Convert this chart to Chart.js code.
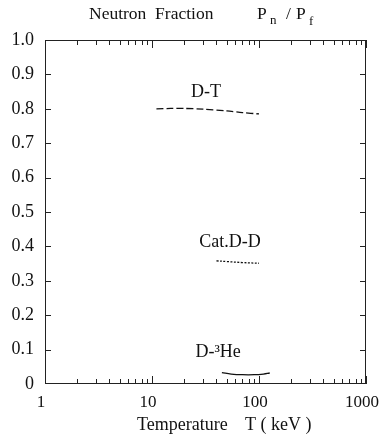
<html>
  <head>
    <title>Neutron Fraction</title>
    <script src="https://cdn.jsdelivr.net/npm/chart.js@4.4.0/dist/chart.umd.min.js"></script>
    <style>
      body { margin: 0; background: #fff; }
      #wrap { width: 380px; height: 434px; }
    </style>
  </head>
  <body>
    <div id="wrap"><canvas id="chart"></canvas></div>
  </body>
  <script>
    // curves (T in keV, Pn/Pf)
    var dtT = [11, 15, 20, 30, 50, 70, 100];
    var dtP = [0.800, 0.801, 0.801, 0.799, 0.794, 0.789, 0.785];
    var ddT = [40, 50, 70, 100];
    var ddP = [0.358, 0.356, 0.353, 0.351];
    var heT = [45, 55, 70, 90, 110, 126];
    var heP = [0.033, 0.029, 0.027, 0.027, 0.029, 0.032];

    var xLabels = [1, 10, 100, 1000];
    var yLabels = ['0', '0.1', '0.2', '0.3', '0.4', '0.5', '0.6', '0.7', '0.8', '0.9', '1.0'];

    var curveNames = ['D-T', 'Cat.D-D', 'D-\u00B3He'];
    var namePos = [[32, 0.849], [53.6, 0.413], [41.5, 0.093]];

    var serif = '"Liberation Serif", "DejaVu Serif", serif';

    function pts(xs, ys) {
      var out = [];
      for (var i = 0; i < xs.length; i++) out.push({x: xs[i], y: ys[i]});
      return out;
    }

    // inward ticks on all four sides, curve names and the titles
    var decor = {
      id: 'decor',
      afterDraw: function(chart) {
        var ctx = chart.ctx;
        var xs = chart.scales.x, ys = chart.scales.y;
        var a = chart.chartArea;
        ctx.save();
        ctx.strokeStyle = '#222';
        ctx.lineWidth = 1;
        ctx.strokeRect(a.left + 0.5, a.top + 0.5, a.right - a.left - 1, a.bottom - a.top - 1);
        ctx.beginPath();
        for (var d = 1; d < 1000; d *= 10) {
          for (var m = 1; m <= 10; m++) {
            var px = Math.round(xs.getPixelForValue(d * m)) + 0.5;
            var len = (m == 1 || m == 10) ? 8 : 5;
            ctx.moveTo(px, a.bottom); ctx.lineTo(px, a.bottom - len);
            ctx.moveTo(px, a.top); ctx.lineTo(px, a.top + len);
          }
        }
        for (var i = 1; i < 10; i++) {
          var py = Math.round(ys.getPixelForValue(i / 10)) + 0.5;
          ctx.moveTo(a.left, py); ctx.lineTo(a.left + 6, py);
          ctx.moveTo(a.right, py); ctx.lineTo(a.right - 6, py);
        }
        ctx.stroke();

        ctx.fillStyle = '#111';
        ctx.font = '18px ' + serif;
        ctx.textAlign = 'center';
        ctx.textBaseline = 'middle';
        for (var k = 0; k < curveNames.length; k++) {
          ctx.fillText(curveNames[k], xs.getPixelForValue(namePos[k][0]), ys.getPixelForValue(namePos[k][1]));
        }

        ctx.textAlign = 'left';
        ctx.textBaseline = 'alphabetic';
        // x axis title
        ctx.font = '18px ' + serif;
        ctx.fillText('Temperature', 137, 430);
        ctx.fillText('T ( keV )', 245, 430);

        // title with subscripts
        ctx.font = '17.5px ' + serif;
        ctx.fillText('Neutron  Fraction', 89, 19);
        ctx.fillText('P', 257, 19);
        ctx.font = '13px ' + serif;
        ctx.fillText('n', 270, 24);
        ctx.font = '17.5px ' + serif;
        ctx.fillText('/', 286, 19);
        ctx.fillText('P', 296, 19);
        ctx.font = '13px ' + serif;
        ctx.fillText('f', 309, 25);
        ctx.restore();
      }
    };

    new Chart(document.getElementById('chart'), {
      type: 'line',
      data: {
        datasets: [
          { label: 'D-T', data: pts(dtT, dtP), borderColor: '#111', borderWidth: 1.3,
            borderDash: [7, 3], pointRadius: 0, tension: 0.3, fill: false },
          { label: 'Cat.D-D', data: pts(ddT, ddP), borderColor: '#111', borderWidth: 1.3,
            borderDash: [2, 1.5], pointRadius: 0, tension: 0.4, fill: false },
          { label: 'D-3He', data: pts(heT, heP), borderColor: '#111', borderWidth: 1.3,
            pointRadius: 0, tension: 0.4, fill: false }
        ]
      },
      options: {
        responsive: true,
        maintainAspectRatio: false,
        animation: false,
        layout: { padding: { top: 40, right: 14, left: 0, bottom: 0 } },
        plugins: { legend: { display: false }, tooltip: { enabled: false } },
        scales: {
          x: {
            type: 'logarithmic', min: 1, max: 1000,
            grid: { display: false },
            border: { display: false },
            afterBuildTicks: function(s) { s.ticks = xLabels.map(function(v) { return {value: v}; }); },
            afterFit: function(s) { s.height = 50; s.paddingLeft = 0; s.paddingRight = 0; },
            ticks: { color: '#111', font: { family: serif, size: 17 }, maxRotation: 0, padding: 0,
              labelOffset: -4, callback: function(v) { return String(v); } }
          },
          y: {
            min: 0, max: 1,
            grid: { display: false },
            border: { display: false },
            afterFit: function(s) { s.width = 45; s.paddingTop = 0; s.paddingBottom = 0; },
            ticks: { stepSize: 0.1, color: '#111', font: { family: serif, size: 18 }, padding: 3,
              callback: function(v, i) { return yLabels[Math.round(v * 10)]; } }
          }
        }
      },
      plugins: [decor]
    });
  </script>
</html>
